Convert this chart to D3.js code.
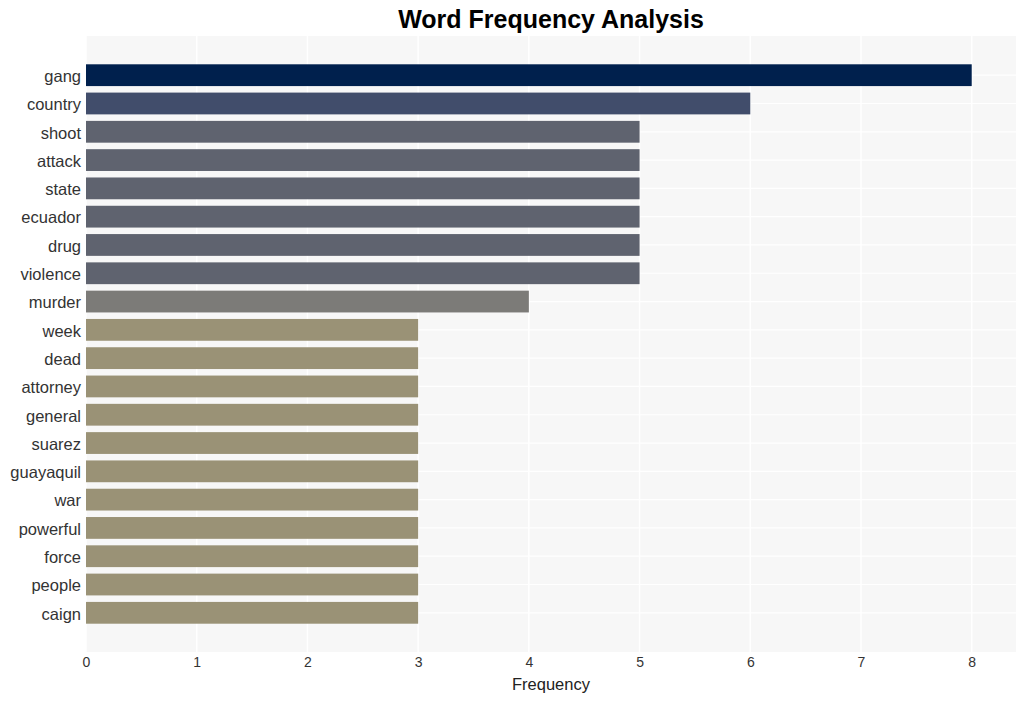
<!DOCTYPE html>
<html>
<head>
<meta charset="utf-8">
<script src="https://cdn.jsdelivr.net/npm/d3@7"></script>
<style>
  html, body { margin: 0; padding: 0; background: #ffffff; }
  svg { display: block; font-family: "Liberation Sans", Arial, sans-serif; }
</style>
</head>
<body>
<svg id="chart" width="1026" height="701"></svg>
<script>
const words = ["gang","country","shoot","attack","state","ecuador","drug","violence","murder","week","dead","attorney","general","suarez","guayaquil","war","powerful","force","people","caign"];
const counts = [8,6,5,5,5,5,5,5,4,3,3,3,3,3,3,3,3,3,3,3];
const xTicks = [0,1,2,3,4,5,6,7,8];
const colorByCount = {8: "#00204d", 6: "#414d6b", 5: "#5f636f", 4: "#7c7b78", 3: "#9a9276"};

const data = words.map((w, i) => ({word: w, count: counts[i]}));

const svg = d3.select("#chart");
const mLeft = 86, mRight = 1016, mTop = 36, mBottom = 652;

const x = d3.scaleLinear().domain([0, 8.4]).range([mLeft, mRight]);
const y = d3.scalePoint().domain(words).range([mTop, mBottom]).padding(1.385);
const barH = y.step() * 0.77;

// panel background
svg.append("rect").attr("x", mLeft).attr("y", mTop)
  .attr("width", mRight - mLeft).attr("height", mBottom - mTop)
  .attr("fill", "#f7f7f7");

// horizontal gridlines at category centers
svg.append("g").selectAll("line").data(words).join("line")
  .attr("x1", mLeft).attr("x2", mRight)
  .attr("y1", d => y(d)).attr("y2", d => y(d))
  .attr("stroke", "#ffffff").attr("stroke-width", 1.2);

// vertical gridlines
svg.append("g").selectAll("line").data(xTicks).join("line")
  .attr("x1", d => x(d)).attr("x2", d => x(d))
  .attr("y1", mTop).attr("y2", mBottom)
  .attr("stroke", "#ffffff").attr("stroke-width", 1.5);

// bars
svg.append("g").selectAll("rect").data(data).join("rect")
  .attr("x", x(0))
  .attr("y", d => y(d.word) - barH / 2)
  .attr("width", d => x(d.count) - x(0))
  .attr("height", barH)
  .attr("fill", d => colorByCount[d.count]);

// y axis labels
const yAxis = d3.axisLeft(y).tickSize(0).tickPadding(5);
const gy = svg.append("g").attr("transform", `translate(${mLeft},1)`).call(yAxis);
gy.select(".domain").remove();
gy.selectAll("text").attr("font-size", 16.5).attr("fill", "#333333")
  .attr("font-family", "Liberation Sans, Arial, sans-serif");

// x axis
const xAxis = d3.axisBottom(x).tickValues(xTicks).tickSize(0).tickPadding(5).tickFormat(d3.format("d"));
const gx = svg.append("g").attr("transform", `translate(0,${mBottom})`).call(xAxis);
gx.select(".domain").remove();
gx.selectAll("text").attr("font-size", 14).attr("fill", "#333333")
  .attr("font-family", "Liberation Sans, Arial, sans-serif");

// x axis title
svg.append("text").attr("x", (mLeft + mRight) / 2).attr("y", 690)
  .attr("text-anchor", "middle").attr("font-size", 16.5).attr("fill", "#222222")
  .text("Frequency");

// title
svg.append("text").attr("x", (mLeft + mRight) / 2).attr("y", 28)
  .attr("text-anchor", "middle").attr("font-size", 25).attr("font-weight", "bold")
  .attr("fill", "#000000").text("Word Frequency Analysis");
</script>
</body>
</html>
